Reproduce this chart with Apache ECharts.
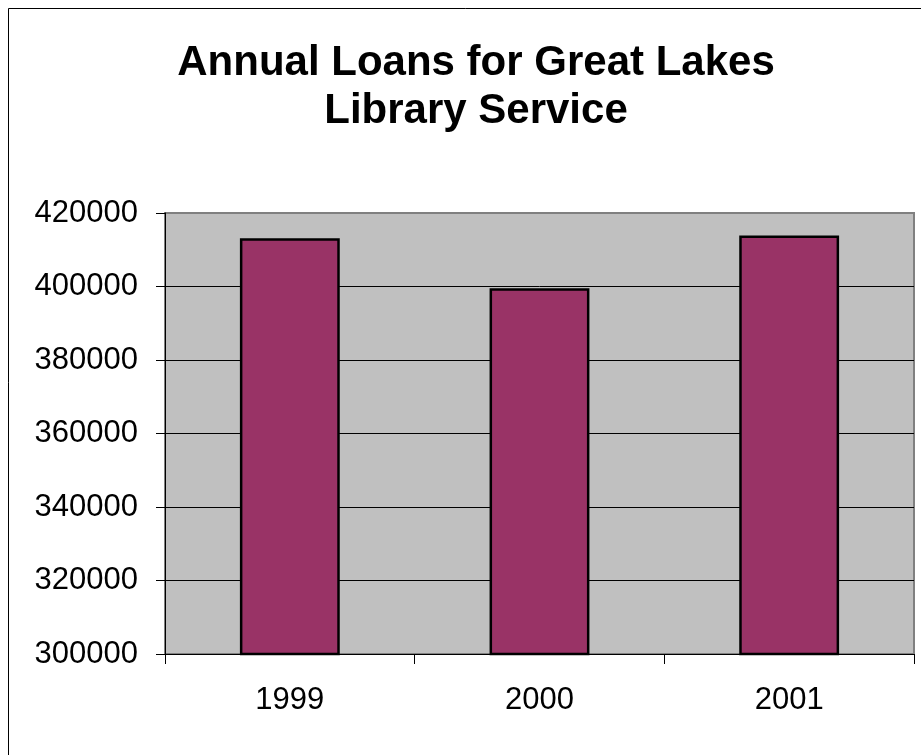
<!DOCTYPE html>
<html>
<head>
<meta charset="utf-8">
<script src="https://cdn.jsdelivr.net/npm/echarts@6/dist/echarts.min.js"></script>
<style>
  html, body { margin: 0; padding: 0; background: #fff; }
  #chart { width: 921px; height: 755px; }
</style>
</head>
<body>
<div id="chart"></div>
<script>
// data
var years = ['1999', '2000', '2001'];
var loans = [413100, 399500, 413900];
var yTicks = [300000, 320000, 340000, 360000, 380000, 400000, 420000];

var chart = echarts.init(document.getElementById('chart'));

var option = {
  animation: false,
  backgroundColor: '#fff',
  title: {
    text: 'Annual Loans for Great Lakes\nLibrary Service',
    left: 471,
    top: 34,
    textAlign: 'center',
    textStyle: {
      fontFamily: 'Liberation Sans, Arial, sans-serif',
      fontSize: 42,
      fontWeight: 'bold',
      color: '#000',
      lineHeight: 48
    }
  },
  // outer chart frame (runs past the right/bottom edge)
  graphic: [{
    type: 'rect',
    shape: { x: 8.5, y: 8.5, width: 1000, height: 1000 },
    style: { fill: 'none', stroke: '#000', lineWidth: 1 },
    silent: true
  }],
  grid: {
    left: 165,
    right: 7,
    top: 213,
    bottom: 101,
    show: true,
    backgroundColor: '#c0c0c0',
    borderColor: '#808080',
    borderWidth: 2
  },
  xAxis: {
    type: 'category',
    data: years,
    axisLine: { lineStyle: { color: '#000', width: 1 } },
    axisTick: { show: true, length: 10, lineStyle: { color: '#000' } },
    axisLabel: {
      margin: 31,
      fontFamily: 'Liberation Sans, Arial, sans-serif',
      fontSize: 31,
      color: '#000'
    }
  },
  yAxis: {
    type: 'value',
    min: yTicks[0],
    max: yTicks[yTicks.length - 1],
    interval: 20000,
    axisLine: { show: true, lineStyle: { color: '#000', width: 1 } },
    axisTick: { show: true, length: 9, lineStyle: { color: '#000' } },
    axisLabel: {
      margin: 27,
      formatter: function (v) { return String(v); },
      fontFamily: 'Liberation Sans, Arial, sans-serif',
      fontSize: 31,
      color: '#000'
    },
    splitLine: {
      show: true,
      showMaxLine: false,
      showMinLine: false,
      lineStyle: { color: '#000', width: 1 }
    }
  },
  series: [{
    type: 'bar',
    data: loans,
    barWidth: '40%',
    itemStyle: {
      color: '#993366',
      borderColor: '#000',
      borderWidth: 2.5
    }
  }]
};

chart.setOption(option);
</script>
</body>
</html>
